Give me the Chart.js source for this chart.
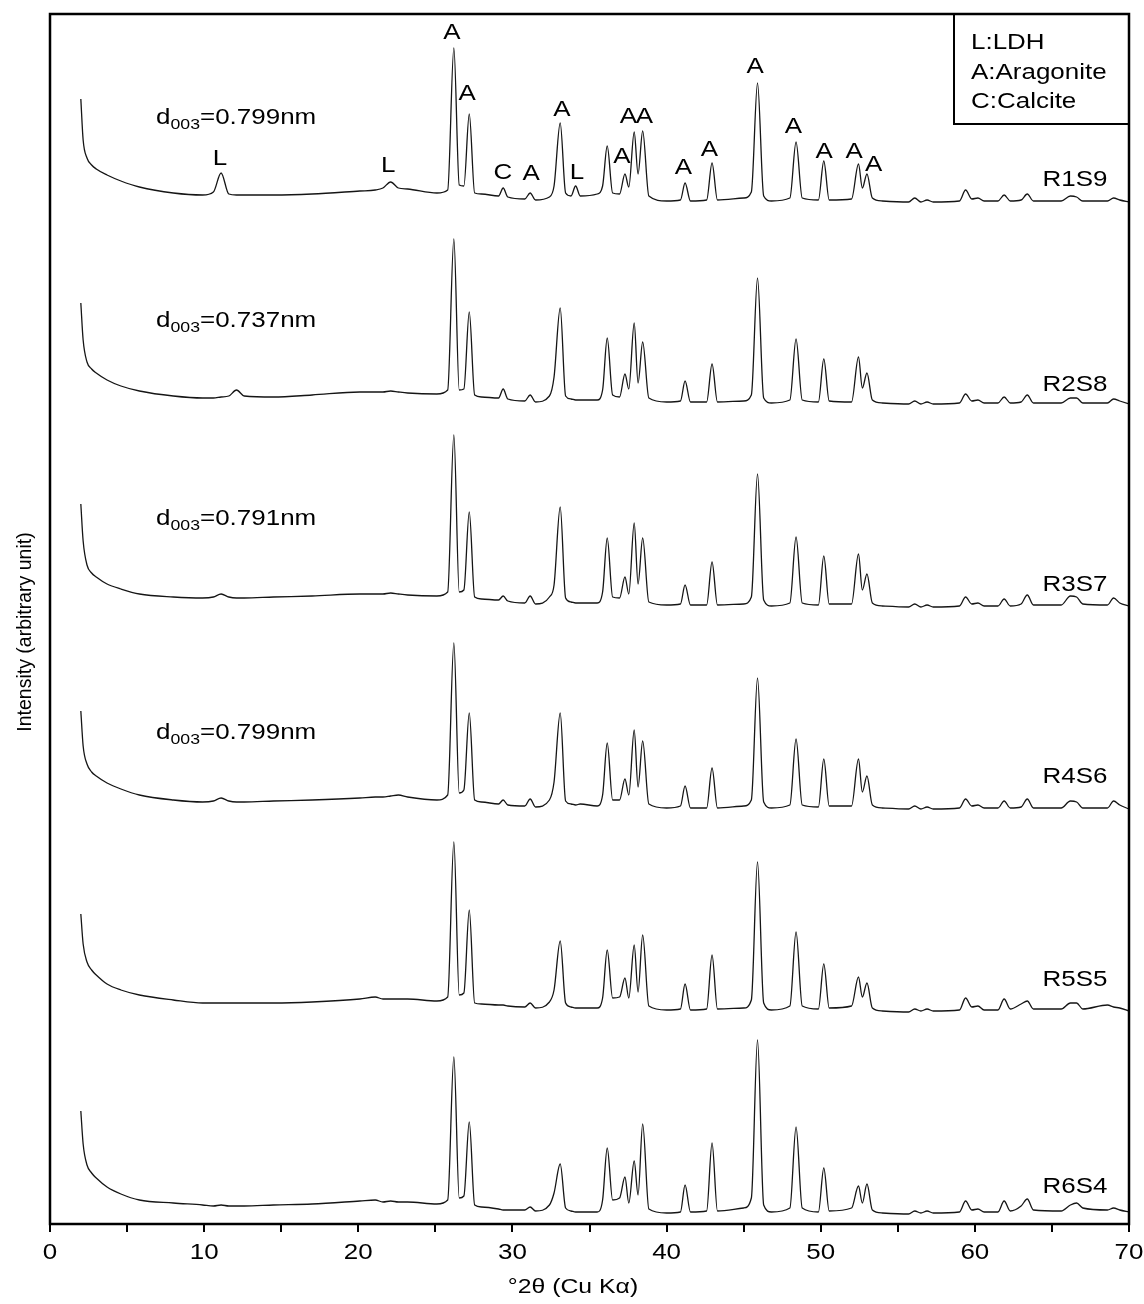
<!DOCTYPE html>
<html>
<head>
<meta charset="utf-8">
<script src="https://cdn.jsdelivr.net/npm/chart.js@4.4.1/dist/chart.umd.min.js"></script>
<style>
  html, body { margin: 0; padding: 0; background: #fff; }
  #wrap { width: 1144px; height: 1304px; }
</style>
</head>
<body>
<div id="wrap"><canvas id="xrdChart" width="1144" height="1304"></canvas></div>
<script>

// 2theta grid (deg), shared by all patterns
const twoTheta = [
  2.0, 2.15, 2.4, 2.7, 3.0, 3.7, 4.6, 5.8, 8.0, 9.9, 10.6,
  11.1, 11.6, 12.1, 12.6, 14.5, 17.0, 20.1, 21.1, 21.6, 22.1,
  22.6, 23.2, 25.1, 25.8, 26.2, 26.55, 26.85, 27.2, 27.55, 28.0,
  29.1, 29.4, 29.7, 30.8, 31.15, 31.5, 32.4, 32.7, 33.1, 33.45,
  33.8, 34.1, 34.4, 35.5, 35.85, 36.15, 36.5, 36.95, 37.3, 37.55,
  37.9, 38.15, 38.45, 38.85, 40.0, 40.9, 41.2, 41.55, 42.6, 42.95,
  43.3, 45.0, 45.5, 45.9, 46.3, 46.8, 48.0, 48.4, 48.8, 49.85,
  50.2, 50.55, 52.0, 52.45, 52.7, 53.0, 53.35, 54.0, 55.7, 56.1,
  56.5, 56.9, 57.3, 59.0, 59.4, 59.8, 60.2, 60.6, 61.5, 61.9,
  62.3, 63.0, 63.4, 63.8, 65.6, 66.2, 66.6, 67.0, 68.6, 69.0,
  69.4, 70.0
];

// intensities (arbitrary unit, stacked with offsets as in the figure)
const r1s9 = [
  1125, 1084, 1066, 1059, 1055, 1049, 1043, 1037, 1031, 1029, 1032,
  1051, 1030, 1029, 1029, 1029, 1030, 1033, 1034, 1036, 1042,
  1036, 1035, 1031, 1034, 1176, 1039, 1038, 1110, 1031, 1030,
  1028, 1036, 1027, 1025, 1031, 1024, 1027, 1038, 1101, 1031,
  1028, 1038, 1028, 1030, 1038, 1078, 1031, 1030, 1050, 1037,
  1092, 1050, 1093, 1028, 1023, 1024, 1041, 1023, 1024, 1061,
  1024, 1026, 1032, 1141, 1028, 1023, 1026, 1082, 1026, 1024,
  1063, 1024, 1025, 1060, 1036, 1050, 1026, 1023, 1022, 1026,
  1022, 1024, 1022, 1023, 1034, 1025, 1026, 1023, 1023, 1029,
  1023, 1024, 1030, 1023, 1023, 1028, 1027, 1023, 1023, 1026,
  1024, 1022
];

const r2s8 = [
  921, 884, 862, 855, 851, 844, 838, 833, 828, 826, 826,
  827, 828, 834, 828, 827, 829, 832, 832, 832, 833,
  832, 831, 830, 834, 985, 834, 835, 912, 829, 827,
  826, 835, 825, 823, 829, 822, 828, 847, 916, 828,
  825, 824, 824, 824, 834, 886, 829, 827, 850, 835,
  901, 841, 882, 826, 822, 823, 843, 822, 822, 860,
  822, 823, 829, 946, 826, 821, 824, 885, 824, 822,
  865, 823, 822, 867, 836, 851, 824, 821, 820, 823,
  820, 822, 820, 821, 830, 823, 824, 821, 821, 827,
  821, 822, 829, 821, 821, 826, 826, 821, 821, 825,
  823, 820
];

const r3s7 = [
  720, 683, 659, 651, 647, 640, 635, 630, 627, 626, 627,
  630, 627, 626, 626, 627, 628, 630, 630, 630, 631,
  630, 629, 628, 632, 789, 632, 634, 712, 627, 625,
  624, 628, 623, 621, 628, 620, 627, 639, 717, 626,
  622, 621, 621, 621, 632, 686, 627, 626, 647, 630,
  701, 640, 686, 622, 619, 620, 639, 619, 619, 662,
  619, 620, 627, 750, 624, 618, 621, 687, 621, 619,
  668, 620, 620, 670, 634, 650, 621, 618, 617, 620,
  617, 619, 617, 618, 627, 620, 621, 618, 618, 625,
  618, 620, 629, 619, 619, 628, 627, 620, 619, 626,
  621, 618
];

const r4s6 = [
  513, 478, 460, 452, 448, 441, 435, 429, 424, 422, 423,
  426, 423, 422, 422, 423, 424, 426, 427, 427, 428,
  429, 427, 424, 429, 581, 431, 434, 511, 424, 422,
  420, 424, 419, 418, 425, 417, 424, 442, 511, 423,
  420, 419, 420, 418, 429, 481, 424, 424, 445, 429,
  494, 437, 483, 420, 416, 418, 438, 416, 416, 456,
  416, 418, 424, 546, 422, 416, 419, 485, 419, 417,
  465, 418, 418, 465, 432, 448, 419, 416, 415, 418,
  415, 417, 415, 416, 425, 418, 419, 416, 416, 423,
  416, 417, 425, 416, 416, 423, 422, 416, 416, 423,
  419, 415
];

const r5s5 = [
  310, 280, 262, 254, 249, 240, 234, 229, 224, 221, 221,
  221, 221, 221, 221, 221, 222, 225, 227, 225, 225,
  225, 225, 223, 227, 382, 229, 231, 314, 221, 220,
  219, 219, 218, 217, 221, 216, 222, 234, 283, 221,
  217, 216, 216, 216, 226, 274, 226, 227, 246, 226,
  279, 232, 289, 218, 214, 215, 240, 214, 215, 269,
  215, 216, 224, 362, 221, 214, 218, 292, 218, 215,
  260, 216, 218, 247, 227, 241, 216, 213, 212, 215,
  213, 215, 213, 214, 226, 217, 218, 214, 214, 225,
  215, 220, 223, 215, 215, 221, 221, 215, 219, 217,
  216, 213
];

const r6s4 = [
  113, 80, 59, 51, 46, 37, 30, 24, 21, 19, 18,
  19, 18, 18, 18, 19, 20, 23, 24, 22, 23,
  22, 22, 20, 24, 167, 26, 28, 102, 19, 17,
  15, 14, 14, 14, 17, 13, 19, 31, 60, 16,
  13, 12, 12, 12, 24, 76, 24, 26, 47, 21,
  63, 29, 100, 15, 11, 12, 39, 12, 13, 81,
  13, 16, 26, 184, 19, 12, 16, 97, 16, 12,
  56, 13, 16, 38, 21, 40, 14, 11, 10, 13,
  11, 13, 11, 12, 23, 14, 15, 12, 12, 23,
  13, 18, 25, 14, 13, 19, 21, 16, 14, 16,
  14, 12
];

const sampleNames = ["R1S9", "R2S8", "R3S7", "R4S6", "R5S5", "R6S4"];
const sampleSeries = [r1s9, r2s8, r3s7, r4s6, r5s5, r6s4];

// d(003) spacing text for the first four patterns
const d003Values = ["0.799", "0.737", "0.791", "0.799"];

// phase letters over the R1S9 peaks
const peakLetters = ["L", "L", "A", "A", "C", "A", "A", "L", "A", "A", "A", "A", "A", "A", "A", "A", "A", "A"];
const peakLetterX = [11.03, 21.95, 26.07, 27.06, 29.38, 31.21, 33.21, 34.18, 37.10, 37.53, 38.57, 41.10, 42.78, 45.75, 48.23, 50.23, 52.17, 53.43];
const peakLetterY = [1065, 1058, 1191, 1130, 1051, 1050, 1114, 1051, 1067, 1107, 1107, 1056, 1074, 1157, 1097, 1072, 1072, 1059];

const legendLines = ["L:LDH", "A:Aragonite", "C:Calcite"];

// label anchors (data units)
const sampleLabelX = 66.5;
const sampleLabelY = [1044, 839, 639, 447, 244, 37];
const d003LabelX = 6.88;
const d003LabelY = [1106, 903, 705, 491];


const FONT = "'Liberation Sans', Arial, Helvetica, sans-serif";
const STRETCH = 1.18;

function wideText(ctx, txt, x, y, align) {
    ctx.save();
    ctx.translate(x, y);
    ctx.scale(STRETCH, 1);
    ctx.textAlign = align || "center";
    ctx.textBaseline = "middle";
    ctx.fillText(txt, 0, 0);
    ctx.restore();
}


// frame, legend box, tick labels and text labels
const decorPlugin = {
    id: "decor",
    afterDraw(chart) {
        const ctx = chart.ctx;
        const a = chart.chartArea;
        const xs = chart.scales.x;
        const ys = chart.scales.y;

        ctx.save();
        ctx.fillStyle = "#000";
        ctx.strokeStyle = "#000";

        // plot frame
        ctx.lineWidth = 2.5;
        ctx.strokeRect(a.left, a.top, a.right - a.left, a.bottom - a.top);

        // x tick labels (every 10 deg)
        ctx.font = "22px " + FONT;
        xs.ticks.forEach(function (t) {
            if (t.value % 10 === 0) {
                wideText(ctx, String(t.value), xs.getPixelForValue(t.value), a.bottom + 29);
            }
        });

        // axis titles
        ctx.font = "21px " + FONT;
        wideText(ctx, "°2θ (Cu Kα)", 573, a.bottom + 63);

        ctx.save();
        ctx.translate(26, 632);
        ctx.rotate(-Math.PI / 2);
        ctx.font = "19.5px " + FONT;
        ctx.textAlign = "center";
        ctx.textBaseline = "middle";
        ctx.fillText("Intensity (arbitrary unit)", 0, 0);
        ctx.restore();

        // legend box
        ctx.lineWidth = 2;
        ctx.strokeRect(a.right - 175, a.top, 175, 110);
        ctx.font = "22px " + FONT;
        legendLines.forEach(function (t, i) {
            wideText(ctx, t, a.right - 158, a.top + 29 + i * 29.5, "left");
        });

        // phase letters
        peakLetters.forEach(function (t, i) {
            wideText(ctx, t, xs.getPixelForValue(peakLetterX[i]), ys.getPixelForValue(peakLetterY[i]));
        });

        // sample names
        sampleNames.forEach(function (t, i) {
            wideText(ctx, t, xs.getPixelForValue(sampleLabelX), ys.getPixelForValue(sampleLabelY[i]));
        });

        // d003 labels with subscript
        d003Values.forEach(function (v, i) {
            let x = xs.getPixelForValue(d003LabelX);
            const y = ys.getPixelForValue(d003LabelY[i]);
            ctx.font = "22px " + FONT;
            wideText(ctx, "d", x, y, "left");
            x += ctx.measureText("d").width * STRETCH;
            ctx.font = "15px " + FONT;
            wideText(ctx, "003", x, y + 7, "left");
            x += ctx.measureText("003").width * STRETCH;
            ctx.font = "22px " + FONT;
            wideText(ctx, "=" + v + "nm", x, y, "left");
        });

        ctx.restore();
    }
};


new Chart(
    document.getElementById("xrdChart"),
    {
        type: "line",

        data: {
            datasets: sampleSeries.map(function (s, k) {
                return {
                    label: sampleNames[k],
                    data: twoTheta.map(function (x, i) { return { x: x, y: s[i] }; }),
                    borderColor: "#151515",
                    borderWidth: 1.3,
                    pointRadius: 0,
                    cubicInterpolationMode: "monotone",
                    fill: false
                };
            })
        },

        options: {
            responsive: false,
            animation: false,
            events: [],

            layout: {
                padding: { top: 14, right: 15, bottom: 0, left: 0 }
            },

            plugins: {
                legend: { display: false },
                tooltip: { enabled: false }
            },

            scales: {
                x: {
                    type: "linear",
                    min: 0,
                    max: 70,
                    ticks: {
                        display: false,
                        stepSize: 5,
                        autoSkip: false
                    },
                    grid: {
                        drawOnChartArea: false,
                        drawTicks: true,
                        tickLength: 8,
                        color: "#000",
                        lineWidth: 2
                    },
                    border: { display: false },
                    title: { display: false },
                    afterFit: function (s) { s.height = 80; }
                },
                y: {
                    min: 0,
                    max: 1210,
                    ticks: { display: false },
                    grid: { display: false },
                    border: { display: false },
                    title: { display: false },
                    afterFit: function (s) { s.width = 50; }
                }
            }
        },

        plugins: [decorPlugin]
    }
);

</script>
</body>
</html>
